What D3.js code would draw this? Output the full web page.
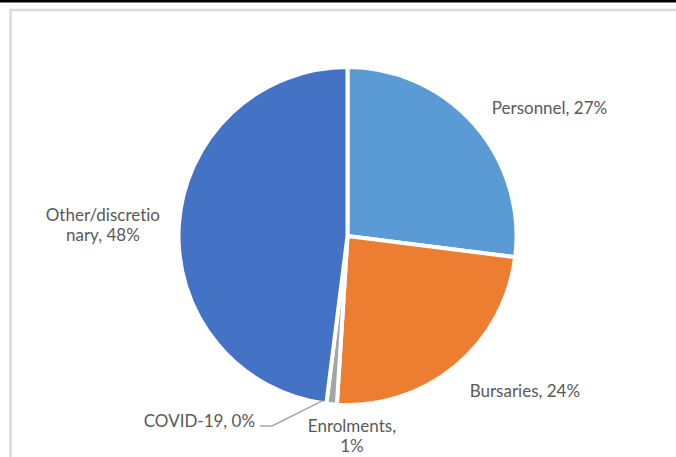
<!DOCTYPE html>
<html>
<head>
<meta charset="utf-8">
<script src="https://cdn.jsdelivr.net/npm/d3@7"></script>
<style>
  html, body { margin: 0; padding: 0; background: #fff; }
  svg { display: block; }
  text { font-family: Lato, "Open Sans", sans-serif; fill: #595959; font-variant-ligatures: none; }
</style>
</head>
<body>
<svg id="chart" width="676" height="457"></svg>
<script>
// Budget share by spending category (percent)
const categories = ["Personnel", "Bursaries", "Enrolments", "COVID-19", "Other/discretionary"];
const shares = [27, 24, 1, 0, 48];
const colors = ["#5B9BD5", "#ED7D31", "#A5A5A5", "#FFC000", "#4472C4"];

const W = 676, H = 457;
const svg = d3.select("#chart");

// page rule and chart-area frame
svg.append("rect").attr("x", 0).attr("y", 0).attr("width", W).attr("height", 2.5).attr("fill", "#000");
svg.append("rect")
  .attr("x", 10.5).attr("y", 10).attr("width", W + 20).attr("height", H + 20)
  .attr("fill", "none").attr("stroke", "#d9d9d9").attr("stroke-width", 2.5);

const cx = 347.5, cy = 236, radius = 169, gapStroke = 4;
const data = categories.map((c, i) => ({ name: c, value: shares[i], color: colors[i] }));

const pie = d3.pie().value(d => d.value).sort(null);
const arcs = pie(data);
const arc = d3.arc().innerRadius(0).outerRadius(radius);

const g = svg.append("g").attr("transform", `translate(${cx},${cy})`);

g.selectAll("path.slice")
  .data(arcs.filter(a => a.endAngle > a.startAngle))
  .join("path")
  .attr("class", "slice")
  .attr("d", arc)
  .attr("fill", d => d.data.color)
  .attr("stroke", "#fff")
  .attr("stroke-width", gapStroke)
  .attr("stroke-linejoin", "miter");

// label placement: start from a point just outside the rim at the slice's mid-angle
const labelRadius = radius - gapStroke / 2 + 20;
const placement = {
  "Personnel":           { anchor: "start",  dx: 4,   dy: 2,   wrap: Infinity },
  "Bursaries":           { anchor: "start",  dx: 3,   dy: 17,  wrap: Infinity },
  "Enrolments":          { anchor: "middle", dx: 22,  dy: 10,  wrap: 11 },
  "COVID-19":            { anchor: "end",    dx: -69, dy: 5.5, wrap: Infinity, leader: true },
  "Other/discretionary": { anchor: "middle", dx: -58, dy: -3,  wrap: 15 }
};
const lineHeight = 19.5;

function wrapText(str, maxChars) {
  const words = str.split(" ");
  const lines = [];
  let cur = "";
  words.forEach(w => {
    while (w.length > maxChars) {
      if (cur) { lines.push(cur); cur = ""; }
      lines.push(w.slice(0, maxChars));
      w = w.slice(maxChars);
    }
    const trial = cur ? cur + " " + w : w;
    if (trial.length > maxChars && cur) { lines.push(cur); cur = w; }
    else cur = trial;
  });
  if (cur) lines.push(cur);
  return lines;
}

function rimPoint(angle, r) {
  return [Math.sin(angle) * r, -Math.cos(angle) * r];
}

arcs.forEach(a => {
  const p = placement[a.data.name];
  const mid = (a.startAngle + a.endAngle) / 2;
  const [ax, ay] = rimPoint(mid, labelRadius);
  const x = ax + p.dx, y = ay + p.dy;
  const lines = wrapText(`${a.data.name}, ${a.data.value}%`, p.wrap);
  const t = g.append("text")
    .attr("x", x).attr("y", y)
    .attr("text-anchor", p.anchor)
    .style("font-size", "17px");
  lines.forEach((ln, i) => {
    t.append("tspan").attr("x", x).attr("y", y + i * lineHeight).text(ln);
  });
  if (p.leader) {
    const [sx, sy] = rimPoint(mid, radius - gapStroke / 2 - 1);
    const ly = y - 1;
    g.append("polyline")
      .attr("points", [[sx - 4, sy], [x + 17, ly], [x + 5, ly]].map(q => q.join(",")).join(" "))
      .attr("fill", "none")
      .attr("stroke", "#a6a6a6")
      .attr("stroke-width", 1.5);
  }
});
</script>
</body>
</html>
